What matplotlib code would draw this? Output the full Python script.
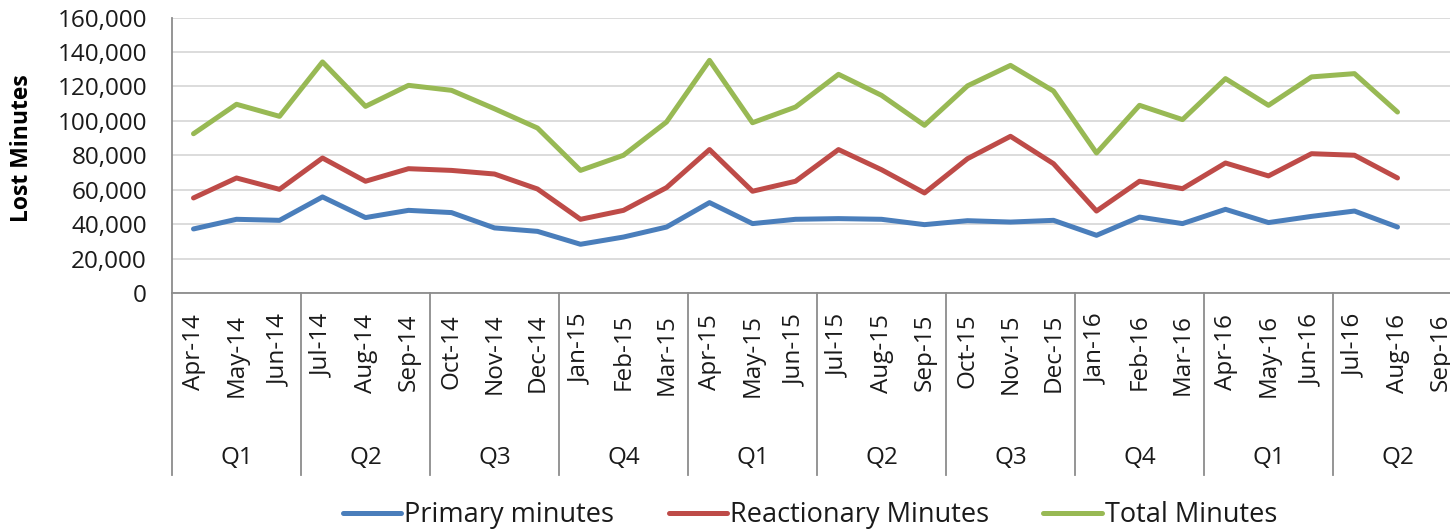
import matplotlib
matplotlib.use("Agg")
import matplotlib.pyplot as plt
from matplotlib.transforms import blended_transform_factory

months = ["Apr-14", "May-14", "Jun-14", "Jul-14", "Aug-14", "Sep-14", "Oct-14", "Nov-14", "Dec-14",
          "Jan-15", "Feb-15", "Mar-15", "Apr-15", "May-15", "Jun-15", "Jul-15", "Aug-15", "Sep-15",
          "Oct-15", "Nov-15", "Dec-15", "Jan-16", "Feb-16", "Mar-16", "Apr-16", "May-16", "Jun-16",
          "Jul-16", "Aug-16", "Sep-16"]
quarters = ["Q1", "Q2", "Q3", "Q4", "Q1", "Q2", "Q3", "Q4", "Q1", "Q2"]

primary = [37200, 42800, 42200, 55800, 43800, 48000, 46700, 37800, 35800,
           28300, 32500, 38300, 52500, 40300, 42800, 43200, 42800, 39700,
           42000, 41200, 42200, 33500, 44100, 40300, 48600, 40900, 44500,
           47600, 38300]
reactionary = [55200, 66800, 60200, 78400, 64900, 72200, 71200, 69100, 60400,
               42800, 48000, 61200, 83300, 59100, 64900, 83300, 71600, 58100,
               78000, 91000, 75100, 47600, 64900, 60600, 75500, 68000, 80900,
               80000, 66800]
total = [92500, 109600, 102600, 134200, 108400, 120600, 117700, 107000, 95800,
         71200, 80000, 99300, 135100, 98900, 108000, 127000, 114800, 97400,
         120300, 132200, 117300, 81300, 109000, 100700, 124500, 109000, 125500,
         127400, 105100]

series_names = ["Primary minutes", "Reactionary Minutes", "Total Minutes"]
colors = ["#4A7EBB", "#BE4B48", "#98B954"]

plt.rcParams['font.family'] = ['Open Sans', 'DejaVu Sans']
txt_color = '#1A1A1A'
fs = 17.5

W, H = 1450, 532
fig = plt.figure(figsize=(W / 100, H / 100), dpi=100)
left, right, top, bottom = 172, 1462, 17.5, 293
ax = fig.add_axes([left / W, 1 - bottom / H, (right - left) / W, (bottom - top) / H])

x = list(range(len(months)))
for vals, name, c in zip([primary, reactionary, total], series_names, colors):
    ax.plot(x[:len(vals)], vals, color=c, lw=3.6, label=name, solid_capstyle='round',
            solid_joinstyle='round')

ax.set_xlim(-0.5, len(months) - 0.5)
ax.set_ylim(0, 160000)
ax.set_yticks(range(0, 160001, 20000))
ax.set_yticklabels([f"{v:,}" for v in range(0, 160001, 20000)], fontsize=fs, color=txt_color)
ax.grid(axis='y', color='#D9D9D9', lw=1.3)
ax.set_axisbelow(True)
ax.set_xticks(x)
ax.set_xticklabels(months, rotation=90, fontsize=fs, color=txt_color)
ax.tick_params(axis='x', length=0, pad=15)
ax.tick_params(axis='y', length=0, pad=18)
for s in ['top', 'right']:
    ax.spines[s].set_visible(False)
for s in ['left', 'bottom']:
    ax.spines[s].set_color('#8C8C8C')
    ax.spines[s].set_linewidth(1.3)

fig.text(22 / W, 1 - 148 / H, "Lost Minutes", rotation=90, ha='center', va='center',
         fontsize=16.5, fontweight='bold', color='black')

trans = blended_transform_factory(ax.transData, ax.transAxes)
sep_bottom = -(475 - bottom) / (bottom - top)
for k in range(len(quarters) + 1):
    xs = -0.5 + 3 * k
    ax.plot([xs, xs], [0, sep_bottom], transform=trans, color='#8C8C8C', lw=1.3, clip_on=False)
q_y = -(458 - bottom) / (bottom - top)
for k, q in enumerate(quarters):
    ax.text(1 + 3 * k, q_y, q, transform=trans, ha='center', va='center', fontsize=fs,
            color=txt_color)

fig.legend(loc='center', bbox_to_anchor=(810 / W, 1 - 515 / H), ncol=3, frameon=False,
           fontsize=19.5, handlelength=2.15, handletextpad=0.12, columnspacing=2.0,
           labelcolor=txt_color)

fig.savefig("out.png", dpi=100)
